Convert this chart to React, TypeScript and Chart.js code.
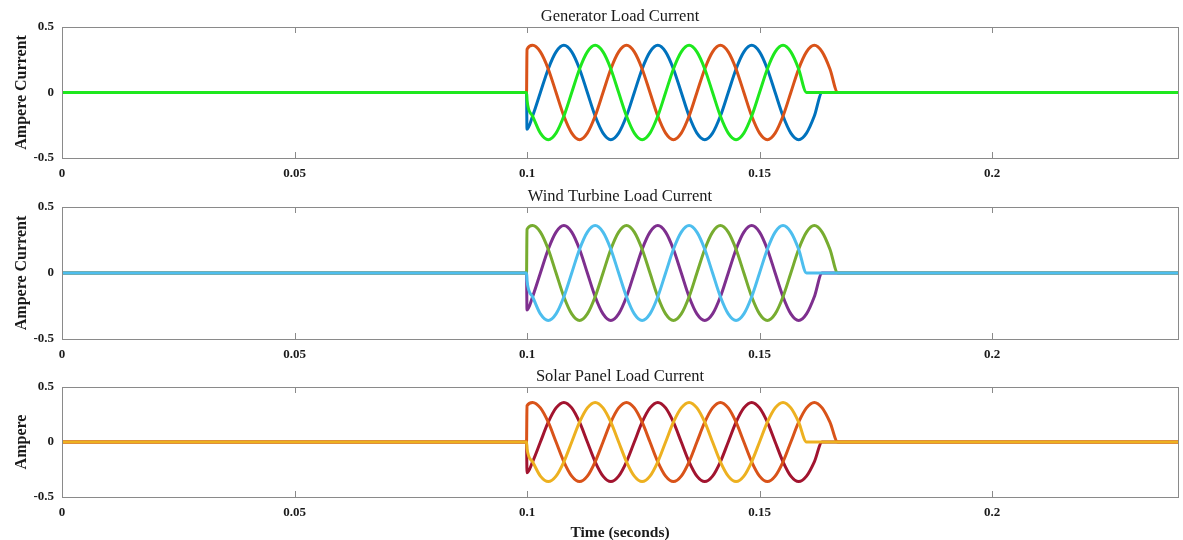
import React, { useEffect, useRef } from "react";
import { Chart, registerables } from "chart.js";

Chart.register(...registerables);

// Time samples (seconds)
const time = [
  0, 0.0999, 0.1,
  0.1012, 0.10288, 0.10457, 0.10625, 0.10793, 0.10962, 0.1113, 0.11298, 0.11466, 0.11635,
  0.11803, 0.11971, 0.1214, 0.12308, 0.12476, 0.12645, 0.12813, 0.12981, 0.13149, 0.13318,
  0.13486, 0.13654, 0.13823, 0.13991, 0.14159, 0.14328, 0.14496, 0.14664, 0.14832, 0.15001,
  0.15169, 0.15337, 0.15506, 0.15674, 0.15842, 0.16011, 0.16179, 0.16347, 0.16515, 0.16684,
  0.24,
];

// Phase currents (A)
const phaseA = [
  0, 0, 0.33,
  0.36, 0.31, 0.18, 0, -0.18, -0.31, -0.36, -0.31, -0.18, 0, 0.18, 0.31,
  0.36, 0.31, 0.18, 0, -0.18, -0.31, -0.36, -0.31, -0.18, 0, 0.18, 0.31,
  0.36, 0.31, 0.18, 0, -0.18, -0.31, -0.36, -0.31, -0.18, 0, 0.18, 0.31,
  0.36, 0.31, 0.18, 0,
  0,
];
const phaseB = [
  0, 0, -0.28,
  -0.18, 0, 0.18, 0.31, 0.36, 0.31, 0.18, 0, -0.18, -0.31, -0.36, -0.31,
  -0.18, 0, 0.18, 0.31, 0.36, 0.31, 0.18, 0, -0.18, -0.31, -0.36, -0.31,
  -0.18, 0, 0.18, 0.31, 0.36, 0.31, 0.18, 0, -0.18, -0.31, -0.36, -0.31,
  -0.18, 0, 0, 0,
  0,
];
const phaseC = [
  0, 0, -0.06,
  -0.18, -0.31, -0.36, -0.31, -0.18, 0, 0.18, 0.31, 0.36, 0.31, 0.18, 0,
  -0.18, -0.31, -0.36, -0.31, -0.18, 0, 0.18, 0.31, 0.36, 0.31, 0.18, 0,
  -0.18, -0.31, -0.36, -0.31, -0.18, 0, 0.18, 0.31, 0.36, 0.31, 0.18, 0,
  0, 0, 0, 0,
  0,
];

const xTicks = [0, 0.05, 0.1, 0.15, 0.2];
const xTickLabels = ["0", "0.05", "0.1", "0.15", "0.2"];
const yTicks = [-0.5, 0, 0.5];
const yTickLabels = ["-0.5", "0", "0.5"];

const panelTitles = ["Generator Load Current", "Wind Turbine Load Current", "Solar Panel Load Current"];
const yTitles = ["Ampere Current", "Ampere Current", "Ampere"];
const xTitle = "Time (seconds)";

// colours per panel: [phaseA, phaseB, phaseC]
const panelColors = [
  ["#D95319", "#0072BD", "#1EE81E"],
  ["#77AC30", "#7E2F8E", "#4DBEEE"],
  ["#D95319", "#A2142F", "#EDB120"],
];

const panels = [
  { top: 0, height: 183, padTop: 27, axisH: 25, xTitle: "" },
  { top: 183, height: 180, padTop: 24, axisH: 24, xTitle: "" },
  { top: 363, height: 177, padTop: 24, axisH: 43, xTitle: xTitle },
];

const SERIF = '"Liberation Serif", "Times New Roman", serif';

const overlay = {
  id: "overlay",
  afterDraw(chart: any, _args: any, opts: any) {
    const { ctx, chartArea: a, scales } = chart;
    ctx.save();
    ctx.strokeStyle = "#8a8a8a";
    ctx.lineWidth = 1;
    ctx.strokeRect(Math.round(a.left) + 0.5, Math.round(a.top) + 0.5, Math.round(a.right - a.left), Math.round(a.bottom - a.top));
    ctx.beginPath();
    for (const v of xTicks) {
      const px = Math.round(scales.x.getPixelForValue(v)) + 0.5;
      if (px < a.left + 2) continue;
      ctx.moveTo(px, a.bottom);
      ctx.lineTo(px, a.bottom - 6);
      ctx.moveTo(px, a.top);
      ctx.lineTo(px, a.top + 6);
    }
    ctx.stroke();
    ctx.fillStyle = "#1a1a1a";
    ctx.textAlign = "center";
    ctx.textBaseline = "middle";
    ctx.font = `16.5px ${SERIF}`;
    ctx.fillText(opts.title, (a.left + a.right) / 2, a.top - 10.5);
    if (opts.xTitle) {
      ctx.font = `bold 15.5px ${SERIF}`;
      ctx.fillText(opts.xTitle, (a.left + a.right) / 2, a.bottom + 36);
    }
    ctx.translate(22, (a.top + a.bottom) / 2);
    ctx.rotate(-Math.PI / 2);
    ctx.font = `bold 16px ${SERIF}`;
    ctx.fillText(opts.yTitle, 0, 0);
    ctx.restore();
  },
};

function Panel({ idx }: { idx: number }) {
  const ref = useRef<HTMLCanvasElement>(null);
  const p = panels[idx];
  useEffect(() => {
    if (!ref.current) return;
    const cols = panelColors[idx];
    const mk = (vals: number[], color: string) => ({
      data: time.map((t, i) => ({ x: t, y: vals[i] })),
      borderColor: color,
      backgroundColor: color,
      borderWidth: 3,
      pointRadius: 0,
      cubicInterpolationMode: "monotone" as const,
      fill: false,
    });
    const chart = new Chart(ref.current, {
      type: "line",
      data: {
        datasets: [mk(phaseC, cols[2]), mk(phaseA, cols[0]), mk(phaseB, cols[1])],
      },
      options: {
        animation: false,
        responsive: false,
        devicePixelRatio: 1,
        layout: { padding: { top: p.padTop, right: 5, left: 0, bottom: 0 } },
        plugins: {
          legend: { display: false },
          tooltip: { enabled: false },
          overlay: { title: panelTitles[idx], yTitle: yTitles[idx], xTitle: p.xTitle },
        } as any,
        scales: {
          x: {
            type: "linear",
            min: 0,
            max: 0.24,
            afterBuildTicks: (s: any) => {
              s.ticks = xTicks.map((v) => ({ value: v }));
            },
            afterFit: (s: any) => {
              s.height = p.axisH;
            },
            grid: { display: false, drawTicks: false },
            border: { display: false },
            ticks: {
              font: { family: SERIF, weight: "bold", size: 13 },
              color: "#1a1a1a",
              padding: 8,
              maxRotation: 0,
              autoSkip: false,
              callback: (_v: any, i: number) => xTickLabels[i],
            },
          },
          y: {
            type: "linear",
            min: -0.5,
            max: 0.5,
            afterBuildTicks: (s: any) => {
              s.ticks = yTicks.map((v) => ({ value: v }));
            },
            afterFit: (s: any) => {
              s.width = 62;
            },
            grid: { display: false, drawTicks: false },
            border: { display: false },
            ticks: {
              font: { family: SERIF, weight: "bold", size: 13 },
              color: "#1a1a1a",
              padding: 8,
              callback: (_v: any, i: number) => yTickLabels[i],
            },
          },
        },
      },
      plugins: [overlay],
    });
    return () => chart.destroy();
  }, [idx]);
  return (
    <canvas
      ref={ref}
      width={1183}
      height={p.height}
      style={{ position: "absolute", left: 0, top: p.top, width: 1183, height: p.height, display: "block" }}
    />
  );
}

export default function App() {
  return (
    <div style={{ position: "absolute", left: 0, top: 0, width: 1183, height: 540, background: "#fff" }}>
      <Panel idx={0} />
      <Panel idx={1} />
      <Panel idx={2} />
    </div>
  );
}
